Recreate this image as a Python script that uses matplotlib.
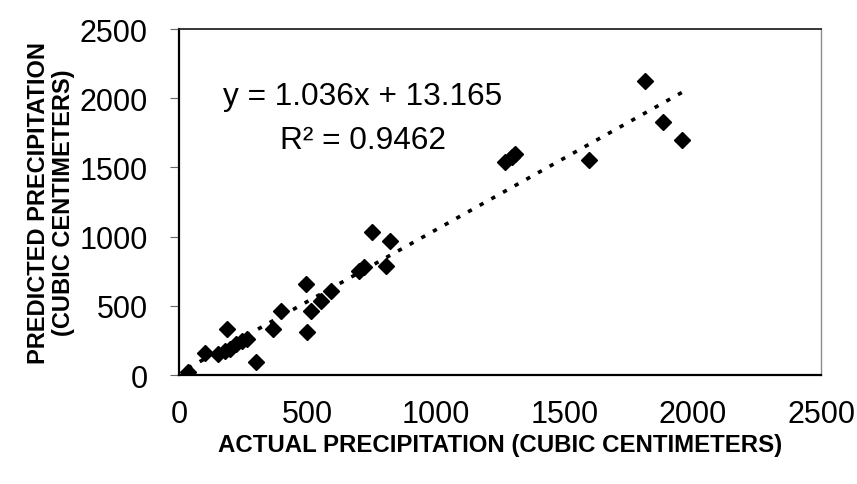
import matplotlib
matplotlib.use("Agg")
import matplotlib.pyplot as plt
import numpy as np

plt.rcParams['font.family'] = ['Liberation Sans', 'DejaVu Sans']

# actual vs predicted precipitation (cubic centimeters)
actual = [35, 100, 150, 180, 187, 200, 220, 245, 265, 300, 365, 397, 495, 498, 514,
          553, 592, 700, 722, 751, 806, 820, 1270, 1295, 1308, 1597, 1815, 1885, 1959]
predicted = [20, 160, 152, 170, 335, 185, 225, 245, 260, 94, 332, 462, 657, 311, 462,
             535, 607, 751, 780, 1030, 790, 965, 1540, 1575, 1597, 1553, 2124, 1825, 1698]

slope = 1.036
intercept = 13.165
r_squared = 0.9462

ticks = [0, 500, 1000, 1500, 2000, 2500]

fig = plt.figure(figsize=(8.57, 4.85), dpi=100)
ax = fig.add_axes([0.2089, 0.2247, 0.958 - 0.2089, 0.938 - 0.2247])

ax.plot(actual, predicted, linestyle='none', marker='D', markersize=7.8,
        color='black', zorder=3)

xs = np.array([min(actual), max(actual)])
ax.plot(xs, slope * xs + intercept, color='black', linewidth=2.6,
        linestyle=(0, (1.2, 2.5)), zorder=2)

ax.text(716, 2016, f'y = {slope}x + {intercept}', fontsize=22.8,
        ha='center', va='center')
ax.text(716, 1698, f'R\u00b2 = {r_squared}', fontsize=22.8,
        ha='center', va='center')

ax.set_xlim(0, 2500)
ax.set_ylim(0, 2500)
ax.set_xticks(ticks)
ax.set_yticks(ticks)
ax.tick_params(axis='x', length=0, pad=17, labelsize=22)
ax.tick_params(axis='y', direction='out', length=6.5, width=0.8,
               pad=16, labelsize=22, color='0.4')

ax.set_xlabel('ACTUAL PRECIPITATION (CUBIC CENTIMETERS)', fontsize=17.3,
              fontweight='bold', labelpad=3)
ax.set_ylabel('PREDICTED PRECIPITATION\n(CUBIC CENTIMETERS)', fontsize=17,
              fontweight='bold', labelpad=3.5, linespacing=1.1)

ax.spines['left'].set_linewidth(1.6)
ax.spines['bottom'].set_linewidth(1.6)
ax.spines['top'].set_linewidth(1.3)
ax.spines['top'].set_color('0.15')
ax.spines['right'].set_linewidth(1.0)
ax.spines['right'].set_color('0.55')

fig.savefig('out.png', dpi=100)
